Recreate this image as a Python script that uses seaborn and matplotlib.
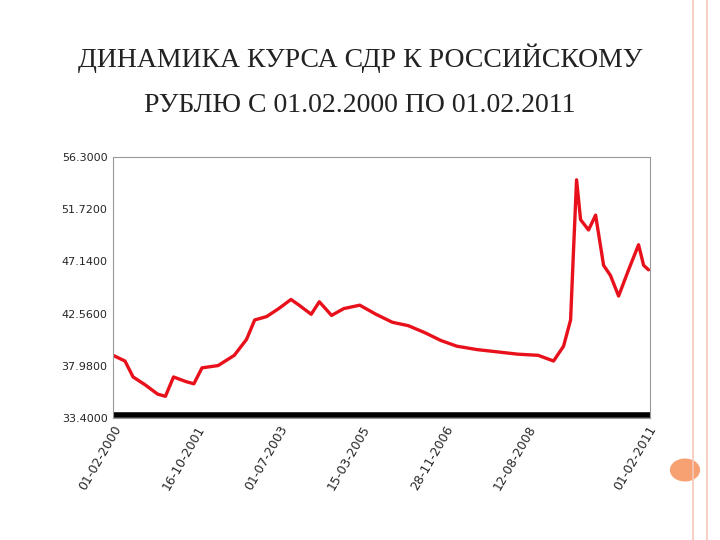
import matplotlib
matplotlib.use("Agg")
import matplotlib.pyplot as plt
import seaborn as sns
import pandas as pd

dates = ["2000-02-01","2000-05-01","2000-07-01","2000-10-01","2001-01-01","2001-03-01","2001-05-01",
         "2001-08-01","2001-10-01","2001-12-01","2002-04-01","2002-08-01","2002-11-01","2003-01-01",
         "2003-04-01","2003-07-01","2003-10-01","2003-12-01","2004-03-01","2004-05-01","2004-08-01",
         "2004-11-01","2005-03-01","2005-07-01","2005-11-01","2006-03-01","2006-07-01","2006-11-01",
         "2007-03-01","2007-08-01","2008-01-01","2008-06-01","2008-11-01","2009-02-25","2009-05-11",
         "2009-07-03","2009-07-25","2009-08-17","2009-09-16","2009-11-15","2010-01-07","2010-03-08",
         "2010-04-29","2010-06-29","2010-09-12","2010-11-26","2011-01-03","2011-02-09"]
values = [38.9,38.4,37.0,36.3,35.5,35.3,37.0,36.6,36.4,37.8,38.0,38.9,40.3,42.0,42.3,43.0,43.8,43.3,
          42.5,43.6,42.4,43.0,43.3,42.5,41.8,41.5,40.9,40.2,39.7,39.4,39.2,39.0,38.9,38.4,39.7,
          42.0,48.1,54.3,50.8,49.9,51.2,46.8,45.9,44.1,46.4,48.6,46.8,46.4]
yticks = [33.4, 37.98, 42.56, 47.14, 51.72, 56.3]
xtick_dates = ["2000-02-01","2001-10-16","2003-07-01","2005-03-15","2006-11-28","2008-08-12","2011-02-01"]
xtick_labels = ["01-02-2000","16-10-2001","01-07-2003","15-03-2005","28-11-2006","12-08-2008","01-02-2011"]

df = pd.DataFrame({"date": pd.to_datetime(dates), "value": values})

sns.set_style("white")
fig = plt.figure(figsize=(7.2, 5.4), dpi=100)
ax = fig.add_axes([113/720, 1-418/540, (650-113)/720, (418-157)/540])
sns.lineplot(data=df, x="date", y="value", ax=ax, color="#e8111b", linewidth=2.4)
ax.set_ylim(33.4, 56.3)
ax.set_xlim(pd.Timestamp("2000-02-01"), pd.Timestamp("2011-02-20"))
ax.axhline(33.4 + 0.25, color="black", linewidth=4)
ax.set_yticks(yticks)
ax.set_yticklabels([f"{v:.4f}" for v in yticks], fontsize=8)
ax.set_xticks(pd.to_datetime(xtick_dates))
ax.set_xticklabels(xtick_labels, rotation=60, ha="right", fontsize=9, rotation_mode="anchor")
ax.tick_params(length=0, pad=4)
ax.set_xlabel(""); ax.set_ylabel("")
for s in ax.spines.values():
    s.set_color("#999999"); s.set_linewidth(0.8)

fig.text(0.5, 1-58/540, "ДИНАМИКА КУРСА СДР К РОССИЙСКОМУ", ha="center", va="center",
         fontsize=20, family="Liberation Serif", color="#222222")
fig.text(0.5, 1-105/540, "РУБЛЮ С 01.02.2000 ПО 01.02.2011", ha="center", va="center",
         fontsize=20, family="Liberation Serif", color="#222222")
fig.add_artist(plt.Line2D([693/720, 693/720], [0, 1], color="#f5c7b8", lw=1.2))
fig.add_artist(plt.Line2D([707/720, 707/720], [0, 1], color="#f5c7b8", lw=1.2))
fig.add_artist(plt.Circle((685/720, 1-470/540), 0.02, color="#f7a072", transform=fig.transFigure))
fig.savefig("out.png", dpi=100)
